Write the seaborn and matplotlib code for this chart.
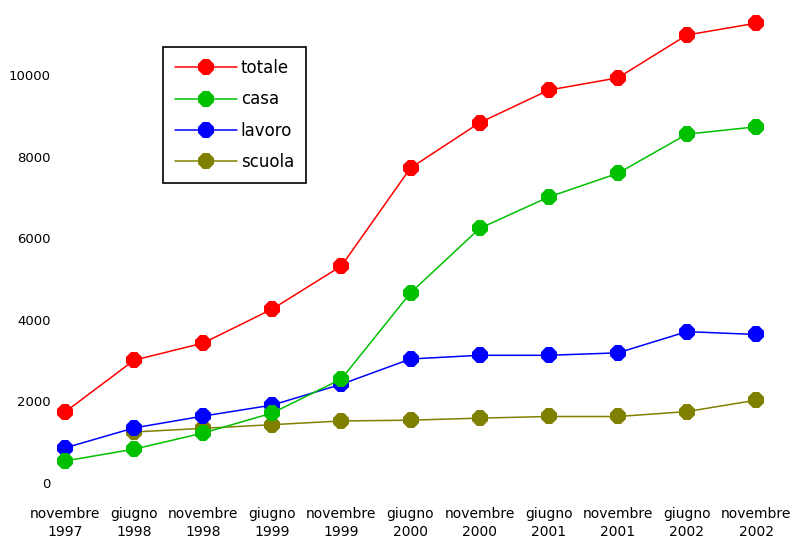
import matplotlib
matplotlib.use("Agg")
import matplotlib.pyplot as plt
import seaborn as sns
import pandas as pd
import numpy as np

# Periods of the survey
periodi = ["novembre\n1997", "giugno\n1998", "novembre\n1998", "giugno\n1999",
           "novembre\n1999", "giugno\n2000", "novembre\n2000", "giugno\n2001",
           "novembre\n2001", "giugno\n2002", "novembre\n2002"]

# Series values
totale = [1740, 3010, 3430, 4265, 5320, 7720, 8830, 9630, 9930, 10980, 11270]
casa = [540, 830, 1225, 1715, 2550, 4660, 6240, 7010, 7590, 8550, 8730]
lavoro = [860, 1350, 1640, 1910, 2420, 3040, 3130, 3130, 3190, 3710, 3640]
scuola = [np.nan, 1250, 1340, 1430, 1520, 1540, 1590, 1630, 1630, 1750, 2030]

serie = ["totale", "casa", "lavoro", "scuola"]
colori = {"totale": "#FF0000", "casa": "#00C000", "lavoro": "#0000FF", "scuola": "#808000"}
valori = {"totale": totale, "casa": casa, "lavoro": lavoro, "scuola": scuola}

sns.set_style("white")
plt.rcParams["font.family"] = ["DejaVu Sans"]
plt.rcParams["text.color"] = "black"
plt.rcParams["xtick.color"] = "black"
plt.rcParams["ytick.color"] = "black"

W, H = 794, 545
fig = plt.figure(figsize=(W / 100, H / 100), dpi=100)

# Axes placed in pixel terms: value 0 at y=483, first period at x=65
left_px, right_px = 52, 790
bottom_px, top_px = 483, 14
ax = fig.add_axes([left_px / W, 1 - bottom_px / H,
                   (right_px - left_px) / W, (bottom_px - top_px) / H])

x = np.arange(len(periodi))
# draw bottom-most series first so totale ends on top
for nome in reversed(serie):
    df = pd.DataFrame({"x": x, "y": valori[nome]}).dropna()
    sns.lineplot(data=df, x="x", y="y", ax=ax, color=colori[nome],
                 marker="8", markersize=12.5, markeredgewidth=0,
                 linewidth=1.1, sort=False, label=nome)

step = 69.1
ax.set_xlim(-(65 - left_px) / step, 10 + (right_px - 756) / step)
ax.set_ylim(0, (bottom_px - top_px) / 40.8 * 1000)

ax.set_xticks(x)
ax.set_xticklabels(periodi, fontsize=10, linespacing=1.4, color="black")
ax.set_yticks([0, 2000, 4000, 6000, 8000, 10000])
ax.set_yticklabels(["0", "2000", "4000", "6000", "8000", "10000"],
                   fontsize=9.5, color="black")
ax.tick_params(axis="x", length=0, pad=17)
ax.tick_params(axis="y", length=0, pad=1)
ax.set_xlabel("")
ax.set_ylabel("")
for s in ax.spines.values():
    s.set_visible(False)

h, l = ax.get_legend_handles_labels()
order = [l.index(n) for n in serie]
leg = ax.legend([h[i] for i in order], [l[i] for i in order],
                loc="upper left", bbox_to_anchor=(163 / W, 1 - 47 / H),
                bbox_transform=fig.transFigure, borderaxespad=0,
                fontsize=12, handlelength=3.7, handletextpad=0.25,
                labelspacing=0.8, borderpad=0.72, numpoints=1,
                fancybox=False, framealpha=1, edgecolor="black")
leg.get_frame().set_linewidth(1.2)
for t in leg.get_texts():
    t.set_color("black")

fig.savefig("out.png", dpi=100)
